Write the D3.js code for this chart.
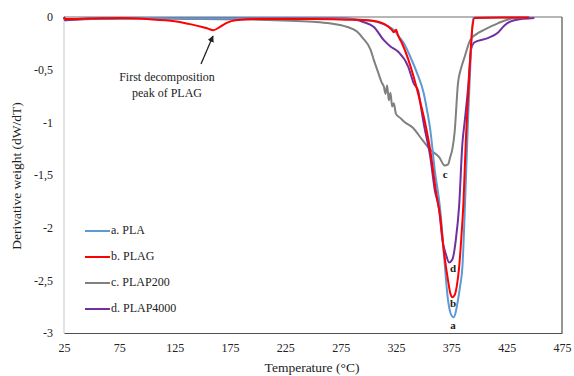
<!DOCTYPE html>
<html><head><meta charset="utf-8">
<script src="https://cdn.jsdelivr.net/npm/d3@7"></script>
<style>body{margin:0;background:#fff}svg{display:block;font-family:"Liberation Serif","Times New Roman",serif}</style>
</head><body><svg id="c" width="574" height="376"></svg>
<script>
const xTicks=[25,75,125,175,225,275,325,375,425,475];
const yTicks=[0,-0.5,-1,-1.5,-2,-2.5,-3];
const yTickLabels=["0","-0,5","-1","-1,5","-2","-2,5","-3"];
const seriesNames=["a. PLA","b. PLAG","c. PLAP200","d. PLAP4000"];
const seriesColors=["#5B9BD5","#FF0000","#808080","#7030A0"];

const plaT=[25,26,50,100,150,200,250,280,296,305,311,317,323,328,332,338,344,350,353,356,360,365,368,372,375,377,379,381,383,385,387.5,390,392,394.7,397,420,440];
const plaV=[0,-0.02,-0.015,-0.01,-0.012,-0.012,-0.015,-0.018,-0.028,-0.04,-0.057,-0.085,-0.124,-0.19,-0.247,-0.38,-0.532,-0.722,-0.883,-1.073,-1.453,-1.833,-2.212,-2.687,-2.83,-2.85,-2.8,-2.687,-2.55,-2.374,-1.738,-1.0,-0.5,-0.01,-0.005,-0.005,-0.005];

const plagT=[25,26,50,75,100,125,140,150,155,160,165,172,180,200,250,280,300,315,321,323,325,327,330,336,341,346,351,356,361,365,368,372,374,376,378,380,382,384,386,388,391,394,396,420,445];
const plagV=[0,-0.02,-0.015,-0.01,-0.02,-0.04,-0.07,-0.095,-0.11,-0.125,-0.1,-0.055,-0.03,-0.02,-0.02,-0.025,-0.03,-0.07,-0.12,-0.145,-0.12,-0.18,-0.24,-0.4,-0.57,-0.77,-0.99,-1.27,-1.65,-1.9,-2.2,-2.5,-2.62,-2.66,-2.64,-2.55,-2.38,-2.1,-1.75,-1.2,-0.6,-0.1,-0.01,-0.005,-0.005];

const p200T=[25,26,50,100,150,200,250,265,281,290,295,302,305,309,312,314,315.5,317,318.5,320,321.5,323,325,329,333,340,349,356,364,369,372,374,376,378,381,384,387,392,398,405,417,432,446];
const p200V=[0,-0.03,-0.02,-0.015,-0.02,-0.025,-0.045,-0.06,-0.095,-0.14,-0.2,-0.31,-0.41,-0.53,-0.62,-0.66,-0.73,-0.65,-0.79,-0.72,-0.85,-0.82,-0.92,-0.96,-1.0,-1.05,-1.17,-1.26,-1.33,-1.41,-1.4,-1.33,-1.25,-1.09,-0.63,-0.48,-0.38,-0.22,-0.16,-0.12,-0.06,-0.01,-0.005];

const p4kT=[25,26,50,100,200,280,296,305,314,320,327,336,341,345,347,350,356,360,364,367,370,373,376,379,382,385,387,390,393,396,408,417,423,432,450];
const p4kV=[0,-0.03,-0.015,-0.01,-0.01,-0.015,-0.05,-0.095,-0.22,-0.28,-0.33,-0.47,-0.63,-0.7,-0.82,-1.01,-1.33,-1.64,-1.83,-2.12,-2.25,-2.33,-2.3,-2.12,-1.8,-1.2,-1.0,-0.69,-0.3,-0.24,-0.2,-0.15,-0.08,-0.03,-0.01];

const allT=[plaT,plagT,p200T,p4kT];
const allV=[plaV,plagV,p200V,p4kV];
const peakLabels=["a","b","c","d"];
const peakT=[376.5,376.5,369.5,376.5];
const peakLabelV=[-2.94,-2.73,-1.5,-2.4];

const svg=d3.select("#c");
const L=64,R=562,T=17,B=333;
const x=d3.scaleLinear().domain([25,475]).range([L,R]);
const y=d3.scaleLinear().domain([-3,0]).range([B,T]);

// frame
svg.append("line").attr("x1",L).attr("x2",L).attr("y1",T).attr("y2",B).attr("stroke","#d0d0d0").attr("stroke-width",1.2);
svg.append("line").attr("x1",L).attr("x2",R).attr("y1",T).attr("y2",T).attr("stroke","#707070").attr("stroke-width",1.2);
svg.append("line").attr("x1",R).attr("x2",R).attr("y1",T).attr("y2",B).attr("stroke","#505050").attr("stroke-width",1.2);

const xAxis=d3.axisBottom(x).tickValues(xTicks).tickSize(0).tickPadding(10);
const gx=svg.append("g").attr("transform",`translate(0,${B})`).call(xAxis);
gx.select(".domain").attr("stroke","#505050").attr("stroke-width",1.2);
gx.selectAll("text").attr("font-size",12).attr("fill","#222").style("font-family","Liberation Serif");

const yAxis=d3.axisLeft(y).tickValues(yTicks).tickSize(0).tickPadding(11).tickFormat((d,i)=>yTickLabels[i]);
const gy=svg.append("g").attr("transform",`translate(${L},0)`).call(yAxis);
gy.select(".domain").remove();
gy.selectAll("text").attr("font-size",12).attr("fill","#222").style("font-family","Liberation Serif");

const line=d3.line().x(d=>x(d[0])).y(d=>y(d[1])).curve(d3.curveMonotoneX);
[2,3,0,1].forEach(i=>{
  const pts=allT[i].map((t,j)=>[t,allV[i][j]]);
  svg.append("path").attr("d",line(pts)).attr("fill","none").attr("stroke",seriesColors[i]).attr("stroke-width",2);
});

peakLabels.forEach((l,i)=>{
  svg.append("text").attr("x",x(peakT[i])).attr("y",y(peakLabelV[i])).attr("text-anchor","middle")
    .attr("font-size",11).attr("font-weight","bold").attr("fill","#222").attr("dominant-baseline","middle").text(l);
});

// legend
seriesNames.forEach((n,i)=>{
  const ly=231+i*26;
  svg.append("line").attr("x1",85).attr("x2",110).attr("y1",ly).attr("y2",ly).attr("stroke",seriesColors[i]).attr("stroke-width",2);
  svg.append("text").attr("x",111).attr("y",ly).attr("dominant-baseline","middle").attr("font-size",12).attr("fill","#222").text(n);
});

// axis titles
svg.append("text").attr("x",312).attr("y",372).attr("text-anchor","middle").attr("font-size",13.5).attr("fill","#222").text("Temperature (°C)");
svg.append("text").attr("transform","translate(21,176) rotate(-90)").attr("text-anchor","middle").attr("font-size",13.5).attr("fill","#222").text("Derivative weight (dW/dT)");

// annotation
svg.append("defs").append("marker").attr("id","ah").attr("viewBox","0 0 10 10").attr("refX",9).attr("refY",5)
  .attr("markerWidth",5).attr("markerHeight",5).attr("orient","auto")
  .append("path").attr("d","M0,0L10,5L0,10z").attr("fill","#222");
svg.append("line").attr("x1",201).attr("y1",64).attr("x2",213).attr("y2",36).attr("stroke","#222").attr("stroke-width",1.3).attr("marker-end","url(#ah)");
svg.append("text").attr("x",167).attr("y",81).attr("text-anchor","middle").attr("font-size",12).attr("fill","#222").text("First decomposition");
svg.append("text").attr("x",167).attr("y",97).attr("text-anchor","middle").attr("font-size",12).attr("fill","#222").text("peak of PLAG");
</script></body></html>
